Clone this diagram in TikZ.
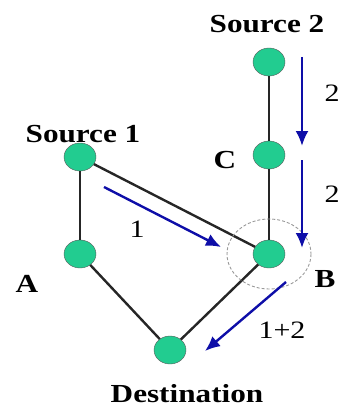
\documentclass[tikz,border=0pt]{standalone}
\usepackage{fontspec}
\setmainfont{Liberation Serif}[FakeStretch=1.2]
\usetikzlibrary{positioning, shapes.geometric, arrows.meta}
\definecolor{nodegreen}{RGB}{34,204,144}
\definecolor{flowblue}{RGB}{14,14,168}

\begin{document}
\begin{tikzpicture}[x=1pt, y=-1pt,
    vertex/.style={ellipse, draw=black!65, fill=nodegreen, minimum width=32pt, minimum height=28pt, inner sep=0pt},
    link/.style={line width=2.4pt, black!85},
    flow/.style={line width=2.4pt, flowblue, -{Latex[length=15pt,width=13pt]}},
    tag/.style={font=\fontsize{26}{30}\selectfont\bfseries, anchor=base, inner sep=0pt},
    amount/.style={font=\fontsize{25}{30}\selectfont, anchor=base, inner sep=0pt}]
  \useasboundingbox (0,0) rectangle (341,409);

  % routers
  \node[vertex] (S2) at (269,62) {};
  \node[vertex] (C) at (269,155) {};
  \node[vertex] (S1) at (80,157) {};
  \node[vertex] (A) at (80,254) {};
  \node[vertex] (B) at (269,254) {};
  \node[vertex] (D) at (170,350) {};

  % links
  \draw[link] (S2) -- (C);
  \draw[link] (C) -- (B);
  \draw[link] (S1) -- (A);
  \draw[link] (A) -- (D);
  \draw[link] (B) -- (D);
  \draw[link] (S1) -- (B);

  % coding node
  \draw[black!40, densely dashed, line width=0.9pt] (B) ellipse [x radius=42, y radius=35];

  % names
  \node[tag] (nS2) at (267,33) {Source 2};
  \node[tag] (nS1) at (83,142) {Source 1};
  \node[tag] (nC) at (225,168) {C};
  \node[tag] (nA) at (27,292) {A};
  \node[tag] (nB) at (325,287) {B};
  \node[tag] (nD) at (187,402) {Destination};

  % flows
  \coordinate (f2a) at (302,57);
  \coordinate (f2b) at (302,146);
  \coordinate (f2c) at (302,160);
  \coordinate (f2d) at (302,248);
  \coordinate (f1a) at (104,187);
  \coordinate (f1b) at (221,247);
  \coordinate (f3a) at (286,282);
  \coordinate (f3b) at (205,351);
  \draw[flow] (f2a) -- (f2b);
  \draw[flow] (f2c) -- (f2d);
  \draw[flow] (f1a) -- (f1b);
  \draw[flow] (f3a) -- (f3b);

  \node[amount] (m2a) at (332,102) {2};
  \node[amount] (m2b) at (332,202) {2};
  \node[amount] (m1) at (137,237) {1};
  \node[amount] (m12) at (282,338) {1+2};
\end{tikzpicture}
\end{document}
